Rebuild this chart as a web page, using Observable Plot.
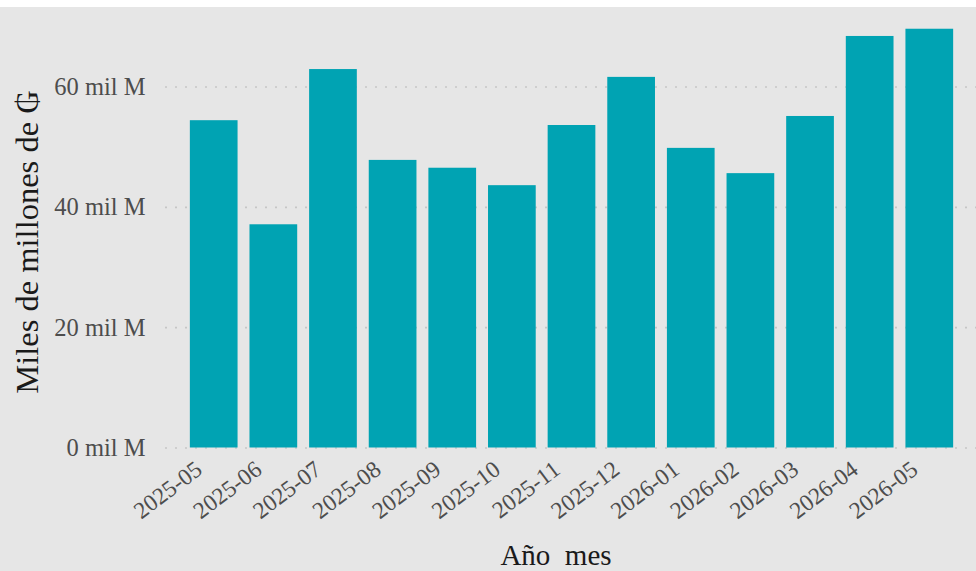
<!DOCTYPE html>
<html>
<head>
<meta charset="utf-8">
<script src="https://cdn.jsdelivr.net/npm/d3@7"></script>
<script src="https://cdn.jsdelivr.net/npm/@observablehq/plot@0.6"></script>
<style>
  html, body { margin: 0; padding: 0; background: #ffffff; overflow: hidden; }
  #chart { padding-top: 7px; }
  #chart svg { display: block; }
</style>
</head>
<body>
<div id="chart"></div>
<script>
// Data (miles de millones de ₲)
const months = ["2025-05","2025-06","2025-07","2025-08","2025-09","2025-10","2025-11","2025-12","2026-01","2026-02","2026-03","2026-04","2026-05"];
const values = [54.4, 37.1, 62.9, 47.8, 46.5, 43.6, 53.6, 61.6, 49.8, 45.6, 55.1, 68.4, 69.6];
const yTicks = [0, 20, 40, 60];
const yTitle = "Miles de millones de ₲";
const xTitle = "Año  mes";

const data = months.map((m, i) => ({month: m, value: values[i]}));

const chart = Plot.plot({
  width: 976,
  height: 564,
  marginLeft: 165,
  marginRight: 0,
  marginTop: 0,
  marginBottom: 100,
  style: {background: "#e6e6e6", fontFamily: "'Liberation Serif', 'Times New Roman', serif", overflow: "visible"},
  x: {domain: months, range: [166, 977], paddingInner: 0.2, paddingOuter: 0.4, align: 0.5, round: false},
  y: {domain: [0, 60], range: [440.5, 79.5]},
  marks: [
    Plot.gridY(yTicks, {stroke: "#c6c6c6", strokeOpacity: 1, strokeWidth: 1.6, strokeDasharray: "2,8"}),
    Plot.barY(data, {x: "month", y: "value", fill: "#00a3b3"}),
    Plot.axisY(yTicks, {tickSize: 0, tickPadding: 20, tickFormat: d => `${d} mil M`, fontSize: 24.5, fill: "#4d4d4d", label: null}),
    Plot.axisX({tickSize: 0, tickPadding: 0, dx: -15, dy: -5, tickRotate: -37, fontSize: 23.5, fill: "#4d4d4d", label: null}),
    Plot.text([yTitle], {frameAnchor: "left", textAnchor: "middle", lineAnchor: "middle", rotate: -90, dx: -138, dy: 2.5, fontSize: 32.5, fill: "#1a1a1a"}),
    Plot.text([xTitle], {frameAnchor: "bottom", textAnchor: "middle", lineAnchor: "bottom", dx: -15, dy: 93, fontSize: 29, fill: "#1a1a1a"})
  ]
});
chart.querySelectorAll("text").forEach(t => t.style.whiteSpace = "pre");
document.getElementById("chart").appendChild(chart);
</script>
</body>
</html>
